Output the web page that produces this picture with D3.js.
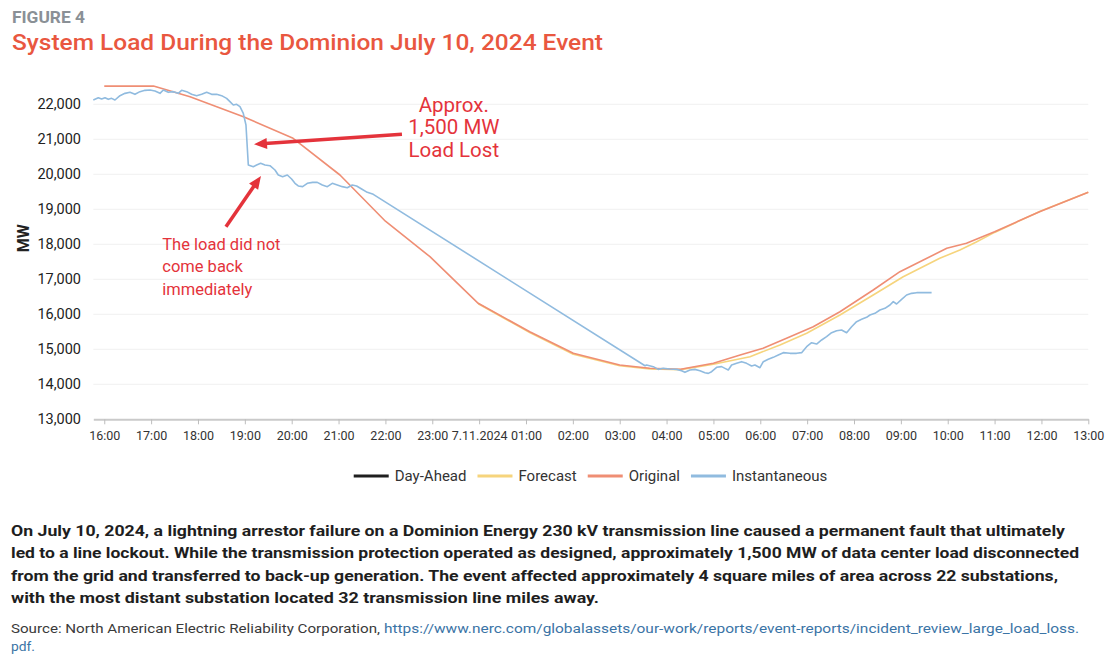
<!DOCTYPE html>
<html><head><meta charset="utf-8">
<script src="https://cdn.jsdelivr.net/npm/d3@7"></script>
<style>
body{margin:0;background:#fff;}
svg{display:block;font-family:Roboto, "Noto Sans", sans-serif;}
</style>
</head><body>
<svg id="c" width="1106" height="661"></svg>
<script>
// ---- DATA (time = hours after 16:00 on 7/10/2024) ----
const tickHours = d3.range(0, 22);
const tickLabels = ["16:00","17:00","18:00","19:00","20:00","21:00","22:00","23:00","7.11.2024","01:00","02:00","03:00","04:00","05:00","06:00","07:00","08:00","09:00","10:00","11:00","12:00","13:00"];
const yTicks = [13000,14000,15000,16000,17000,18000,19000,20000,21000,22000];
const seriesNames = ["Day-Ahead","Forecast","Original","Instantaneous"];

const dayAhead = []; // not visible in the chart

const original = [
  [0.0,22520],[1.05,22520],[1.83,22217],[2.97,21646],[4.03,21029],[5.03,19980],
  [6.0,18660],[6.95,17646],[7.98,16314],[9.08,15503],[10.01,14886],[11.0,14551],
  [11.64,14457],[12.3,14430],[13.0,14600],[13.57,14837],[14.06,15029],[14.56,15314],
  [15.13,15646],[15.7,16074],[16.41,16694],[16.98,17217],[17.48,17551],[17.98,17886],
  [18.4,18029],[19.0,18360],[19.96,18931],[21.0,19486]
];

const forecast = [
  [7.98,16300],[9.08,15480],[10.01,14860],[11.0,14530],[11.64,14440],[12.3,14420],
  [13.0,14571],[13.78,14789],[14.42,15123],[14.99,15457],[15.7,15980],[16.41,16551],
  [17.05,17074],[17.83,17600],[18.26,17837],[18.6,18060],[19.0,18340],[20.0,18960],[21.0,19486]
];

const instantaneous = [
  [-0.234,22123],[-0.127,22189],[-0.056,22151],[0.015,22189],[0.086,22142],[0.157,22170],
  [0.228,22123],[0.335,22247],[0.442,22313],[0.549,22342],[0.655,22285],[0.762,22361],
  [0.869,22399],[0.975,22408],[1.082,22380],[1.189,22313],[1.26,22408],[1.367,22342],
  [1.473,22361],[1.58,22313],[1.651,22399],[1.758,22361],[1.864,22285],[1.971,22247],
  [2.078,22285],[2.185,22342],[2.291,22285],[2.398,22285],[2.505,22247],[2.611,22170],
  [2.682,22075],[2.754,21980],[2.825,21999],[2.896,21932],[2.967,21742],[3.024,21408],
  [3.074,20265],[3.18,20218],[3.252,20265],[3.337,20313],[3.43,20265],[3.536,20246],
  [3.643,20123],[3.714,19980],[3.806,19932],[3.906,19980],[3.998,19866],[4.07,19742],
  [4.14,19666],[4.233,19647],[4.333,19742],[4.447,19770],[4.546,19770],[4.653,19694],
  [4.76,19647],[4.866,19742],[4.973,19694],[5.08,19647],[5.186,19618],[5.293,19694],
  [5.385,19666],[5.492,19580],[5.613,19485],[5.741,19427],
  [11.54,14530],[11.574,14551],[11.717,14504],[11.823,14427],[11.93,14456],[12.072,14437],
  [12.214,14427],[12.321,14389],[12.392,14342],[12.499,14408],[12.606,14427],[12.712,14389],
  [12.819,14332],[12.89,14313],[12.961,14361],[13.068,14485],[13.175,14504],[13.246,14456],
  [13.317,14408],[13.388,14551],[13.495,14599],[13.601,14647],[13.708,14599],[13.815,14523],
  [13.886,14551],[13.993,14475],[14.064,14647],[14.17,14713],[14.277,14770],[14.384,14837],
  [14.491,14904],[14.633,14885],[14.775,14885],[14.882,14904],[14.989,15075],[15.095,15189],
  [15.202,15151],[15.309,15266],[15.415,15361],[15.522,15475],[15.629,15532],[15.735,15551],
  [15.842,15475],[15.949,15646],[16.055,15789],[16.162,15856],[16.269,15913],[16.34,15980],
  [16.447,16027],[16.553,16123],[16.66,16170],[16.767,16266],[16.838,16361],[16.909,16294],
  [17.016,16427],[17.122,16551],[17.229,16599],[17.336,16618],[17.478,16618],[17.656,16618]
];

const annotLost = ["Approx.","1,500 MW","Load Lost"];
const annotBack = ["The load did not","come back","immediately"];
const bodyLines = [
  "On July 10, 2024, a lightning arrestor failure on a Dominion Energy 230 kV transmission line caused a permanent fault that ultimately",
  "led to a line lockout. While the transmission protection operated as designed, approximately 1,500 MW of data center load disconnected",
  "from the grid and transferred to back-up generation. The event affected approximately 4 square miles of area across 22 substations,",
  "with the most distant substation located 32 transmission line miles away."
];

// ---- STYLES ----
const colors = {"Day-Ahead":"#1f1f1f","Forecast":"#f6d47c","Original":"#ef8e74","Instantaneous":"#90bbdf"};
const red = "#e4333b";

const svg = d3.select("#c");
const x = d3.scaleLinear().domain([-0.234, 21]).range([93.3, 1088.3]);
const y = d3.scaleLinear().domain([13000, 22000]).range([419.3, 104.3]);

// Header
svg.append("text").attr("x",12).attr("y",23).attr("fill","#8a9096")
  .attr("font-size",16).attr("font-weight",700).attr("textLength",73).attr("lengthAdjust","spacingAndGlyphs")
  .text("FIGURE 4");
svg.append("text").attr("x",12).attr("y",50).attr("fill","#e9573f")
  .attr("font-size",22).attr("font-weight",500).attr("textLength",591).attr("lengthAdjust","spacingAndGlyphs")
  .text("System Load During the Dominion July 10, 2024 Event");

// Gridlines
svg.append("g").selectAll("line").data(yTicks.filter(v=>v>13000)).join("line")
  .attr("x1",x(-0.234)).attr("x2",x(21)).attr("y1",d=>y(d)).attr("y2",d=>y(d))
  .attr("stroke","#f0f0f0").attr("stroke-width",1);

// Y labels
svg.append("g").selectAll("text").data(yTicks).join("text")
  .attr("x",81).attr("y",d=>y(d)).attr("dy","0.35em").attr("text-anchor","end")
  .attr("font-size",14.5).attr("fill","#222")
  .text(d=>d3.format(",")(d));

// X axis
const xa = svg.append("g").attr("transform",`translate(0,${y(13000)})`)
  .call(d3.axisBottom(x).tickValues(tickHours).tickFormat((d,i)=>tickLabels[i]).tickSize(5).tickSizeOuter(0).tickPadding(7));
xa.select(".domain").attr("stroke","#cacaca").attr("stroke-width",2);
xa.selectAll(".tick line").attr("stroke","#bdbdbd");
xa.selectAll(".tick text").attr("font-size",12.5).attr("fill","#333").attr("font-family","Roboto, sans-serif");

// MW label
svg.append("text").attr("transform",`translate(23,${y(18000)-6}) rotate(-90)`)
  .attr("text-anchor","middle").attr("dy","0.35em").attr("font-size",16).attr("font-weight",700).attr("fill","#222")
  .text("MW");

// Lines
const line = d3.line().x(d=>x(d[0])).y(d=>y(d[1]));
const seriesData = {"Day-Ahead":dayAhead,"Forecast":forecast,"Original":original,"Instantaneous":instantaneous};
seriesNames.forEach(n=>{
  if(!seriesData[n].length) return;
  svg.append("path").datum(seriesData[n]).attr("d",line).attr("fill","none")
    .attr("stroke",colors[n]).attr("stroke-width",1.6).attr("stroke-linejoin","round");
});

// Arrows
function arrow(t0,v0,t1,v1){
  const x0=x(t0),y0=y(v0),x1=x(t1),y1=y(v1);
  const dx=x1-x0, dy=y1-y0, L=Math.hypot(dx,dy), ux=dx/L, uy=dy/L;
  const hl=13, hw=5.5;
  const bx=x1-ux*hl, by=y1-uy*hl;
  svg.append("line").attr("x1",x0).attr("y1",y0).attr("x2",bx+ux*2).attr("y2",by+uy*2)
    .attr("stroke",red).attr("stroke-width",3.5);
  svg.append("path").attr("d",`M${x1},${y1}L${bx-uy*hw},${by+ux*hw}L${bx+uy*hw},${by-ux*hw}Z`).attr("fill",red);
}
arrow(6.353,21143,3.195,20857);
arrow(2.597,18503,3.344,19951);

// Annotation texts
svg.append("g").selectAll("text").data(annotLost).join("text")
  .attr("x",x(7.46)).attr("y",(d,i)=>y(21980)+i*22.2).attr("dy","0.35em")
  .attr("text-anchor","middle").attr("font-size",20.5).attr("fill",red).text(d=>d);
svg.append("g").selectAll("text").data(annotBack).join("text")
  .attr("x",x(1.238)).attr("y",(d,i)=>y(18009)+i*22.4).attr("dy","0.35em")
  .attr("font-size",16.5).attr("fill",red).text(d=>d);

// Legend
const lg = svg.append("g");
let cx = 0;
const items = [];
seriesNames.forEach(n=>{
  const g = lg.append("g");
  g.append("line").attr("x1",cx).attr("x2",cx+35).attr("y1",476).attr("y2",476)
    .attr("stroke",colors[n]).attr("stroke-width",3);
  const t = g.append("text").attr("x",cx+41).attr("y",476).attr("dy","0.35em")
    .attr("font-size",15).attr("fill","#333").text(n);
  cx = cx + 41 + t.node().getComputedTextLength() + 11;
});
const total = cx - 11;
lg.attr("transform",`translate(${590.5-total/2},0)`);

// Body text
const widths = [1054, 1068, 1047, null];
bodyLines.forEach((s,i)=>{
  const t = svg.append("text").attr("x",11).attr("y",535.5+i*22.6)
    .attr("font-size",15.5).attr("font-weight",700).attr("fill","#1e1e1e").text(s);
  const w = widths[i] || 588;
  t.attr("textLength",w).attr("lengthAdjust","spacingAndGlyphs");
});
svg.append("text").attr("x",11).attr("y",633).attr("font-size",13).attr("fill","#3a3a3a")
  .attr("textLength",369).attr("lengthAdjust","spacingAndGlyphs")
  .text("Source: North American Electric Reliability Corporation,");
svg.append("text").attr("x",384).attr("y",633).attr("font-size",13).attr("fill","#3b74a6")
  .attr("textLength",695).attr("lengthAdjust","spacingAndGlyphs")
  .text("https://www.nerc.com/globalassets/our-work/reports/event-reports/incident_review_large_load_loss.");
svg.append("text").attr("x",11).attr("y",651).attr("font-size",13).attr("fill","#3b74a6")
  .attr("textLength",24).attr("lengthAdjust","spacingAndGlyphs").text("pdf.");
</script>
</body></html>
